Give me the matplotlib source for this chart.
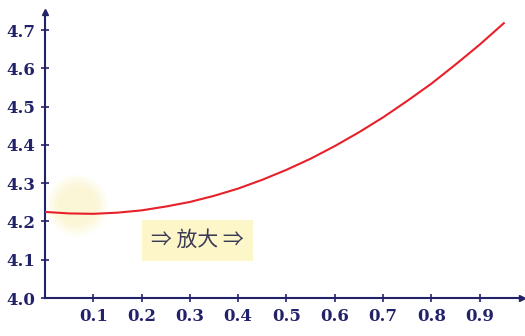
import matplotlib.pyplot as plt

# --- data ---
x_vals = [0.00, 0.05, 0.10, 0.15, 0.20, 0.25, 0.30, 0.35, 0.40, 0.45,
          0.50, 0.55, 0.60, 0.65, 0.70, 0.75, 0.80, 0.85, 0.90, 0.95]
y_vals = [4.225, 4.221, 4.220, 4.223, 4.229, 4.239, 4.251, 4.267, 4.286, 4.309,
          4.335, 4.364, 4.397, 4.433, 4.472, 4.515, 4.560, 4.610, 4.662, 4.718]
x_ticks = [0.1, 0.2, 0.3, 0.4, 0.5, 0.6, 0.7, 0.8, 0.9]
y_ticks = [4.0, 4.1, 4.2, 4.3, 4.4, 4.5, 4.6, 4.7]
note_text = '⇒ 放大 ⇒'

NAVY = '#22226a'
XMAX, YMAX = 0.987, 4.747

fig = plt.figure(figsize=(5.25, 3.36), dpi=100)
ax = fig.add_axes([0.0857, 0.113, 0.908, 0.851])
ax.set_xlim(0, XMAX)
ax.set_ylim(4.0, YMAX)

# soft yellow glow near the minimum
for s, a in [(2000, 0.08), (1600, 0.10), (1200, 0.12), (800, 0.12)]:
    ax.scatter([0.067], [4.243], s=s, color='#f8ea90', alpha=a, lw=0, zorder=1)

ax.plot(x_vals, y_vals, color='#e8202a', lw=1.5, zorder=3)

ax.text(0.316, 4.151, note_text, ha='center', va='center', fontsize=15,
        color='#3a3a55', family=['Noto Sans CJK SC', 'DejaVu Sans'],
        bbox=dict(boxstyle='square,pad=0.45', fc='#fcf6c8', ec='none'), zorder=2)

# axes look: only left/bottom spines with arrows
for side in ['top', 'right']:
    ax.spines[side].set_visible(False)
for side in ['left', 'bottom']:
    ax.spines[side].set_color(NAVY)
    ax.spines[side].set_linewidth(1.5)
ax.plot(1, 0, '>', color=NAVY, ms=4, transform=ax.transAxes, clip_on=False)
ax.plot(0, 1, '^', color=NAVY, ms=4, transform=ax.transAxes, clip_on=False)

ax.set_xticks(x_ticks)
ax.set_yticks(y_ticks)
ax.set_xticklabels([f'{v:.1f}' for v in x_ticks])
ax.set_yticklabels([f'{v:.1f}' for v in y_ticks])
ax.tick_params(direction='inout', length=6, width=1.2, color=NAVY,
               labelcolor=NAVY, labelsize=12, pad=4)
for lab in ax.get_xticklabels() + ax.get_yticklabels():
    lab.set_family('DejaVu Serif')
    lab.set_fontweight('bold')

fig.savefig('out.png', dpi=100)
